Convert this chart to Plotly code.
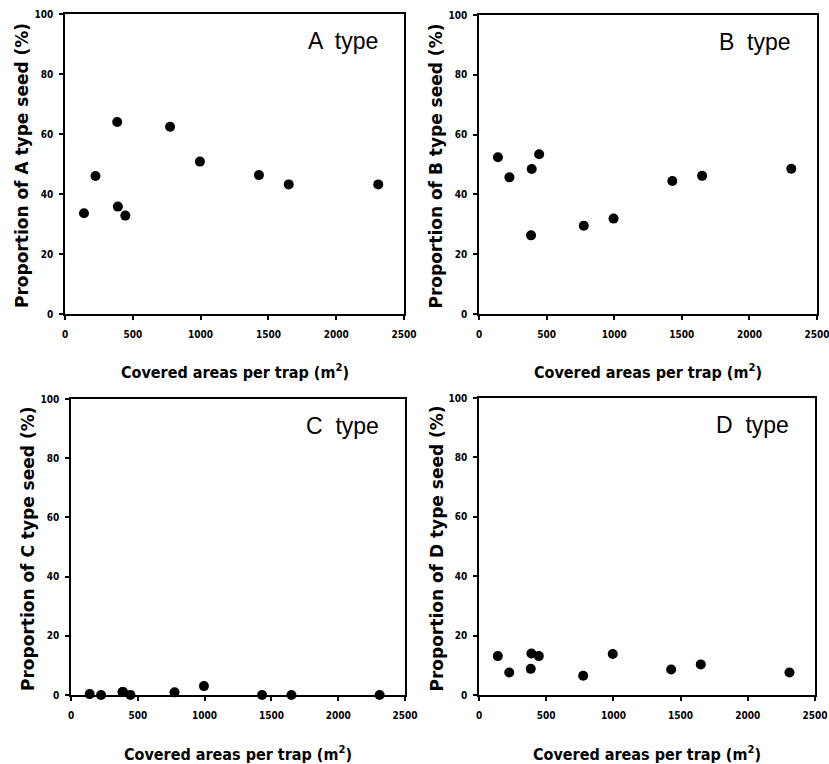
import plotly.graph_objects as go

areas = [140, 225, 385, 390, 445, 775, 995, 1430, 1650, 2310]
prop_a = [33.6, 46.0, 64.0, 35.8, 32.8, 62.4, 50.8, 46.3, 43.2, 43.2]
prop_b = [52.4, 45.7, 26.3, 48.5, 53.4, 29.5, 31.9, 44.5, 46.2, 48.6]
prop_c = [0.3, 0.0, 1.0, 1.0, 0.0, 0.9, 3.0, 0.0, 0.0, 0.0]
prop_d = [13.1, 7.6, 8.8, 14.0, 13.1, 6.5, 13.8, 8.6, 10.3, 7.6]
panel_labels = ["A", "B", "C", "D"]
x_ticks = [0, 500, 1000, 1500, 2000, 2500]
y_ticks = [0, 20, 40, 60, 80, 100]

W, H = 829, 764
# plot-area pixel boxes in page pixels (left, right, top, bottom)
boxes = [(65, 404, 14, 314), (479, 817, 15, 314), (71, 405, 399, 695), (479, 815, 398, 695)]
xtitle_gap = [57, 57, 58, 58]
series = [prop_a, prop_b, prop_c, prop_d]


def px(xp):
    return xp / W


def py(yp):
    return 1 - yp / H


tick_font = dict(family="DejaVu Sans Condensed, sans-serif", size=10, color="black", weight="bold")

fig = go.Figure()
annotations = []
for i, (lab, ys, (l, r, t, b), gap) in enumerate(zip(panel_labels, series, boxes, xtitle_gap)):
    n = "" if i == 0 else str(i + 1)
    fig.add_trace(go.Scatter(x=areas, y=ys, mode="markers",
                             marker=dict(color="black", size=10, symbol="circle"),
                             xaxis="x" + n, yaxis="y" + n, showlegend=False, cliponaxis=False))
    common = dict(showline=True, mirror=True, linecolor="black", linewidth=1.5,
                  ticks="outside", ticklen=4, tickcolor="black", tickwidth=1.5,
                  showgrid=False, zeroline=False, tickfont=tick_font, automargin=False,
                  ticklabeloverflow="allow")
    fig.update_layout(**{
        "xaxis" + n: dict(domain=[px(l), px(r)], range=[0, 2500], tickvals=x_ticks,
                          anchor="y" + n, ticklabelstandoff=6, **common),
        "yaxis" + n: dict(domain=[py(b), py(t)], range=[0, 100], tickvals=y_ticks,
                          anchor="x" + n, ticklabelstandoff=4, **common),
    })
    # panel label
    annotations.append(dict(text=f"{lab}  type", x=px(r - 24), y=py(t + 27),
                            xref="paper", yref="paper", xanchor="right", yanchor="middle",
                            showarrow=False,
                            font=dict(family="Liberation Sans, Arial, sans-serif", size=23, color="black")))
    # x title
    annotations.append(dict(text="Covered areas per trap (m<sup>2</sup>)", x=px((l + r) / 2),
                            y=py(b + gap), xref="paper", yref="paper",
                            xanchor="center", yanchor="middle", showarrow=False,
                            font=dict(family="DejaVu Sans Condensed, sans-serif",
                                      size=16, color="black", weight="bold")))
    # y title
    annotations.append(dict(text=f"Proportion of {lab} type seed (%)", x=px(l - 43),
                            y=py((t + b) / 2 + 2), xref="paper", yref="paper",
                            xanchor="center", yanchor="middle", showarrow=False, textangle=-90,
                            font=dict(family="DejaVu Sans, sans-serif", size=17, color="black", weight="bold")))

fig.update_layout(width=W, height=H, margin=dict(l=0, r=0, t=0, b=0, autoexpand=False),
                  paper_bgcolor="white", plot_bgcolor="white", annotations=annotations)
fig.write_html("out.html", config={"displayModeBar": False},
               post_script="document.body.style.margin='0';document.body.style.overflow='hidden';")
